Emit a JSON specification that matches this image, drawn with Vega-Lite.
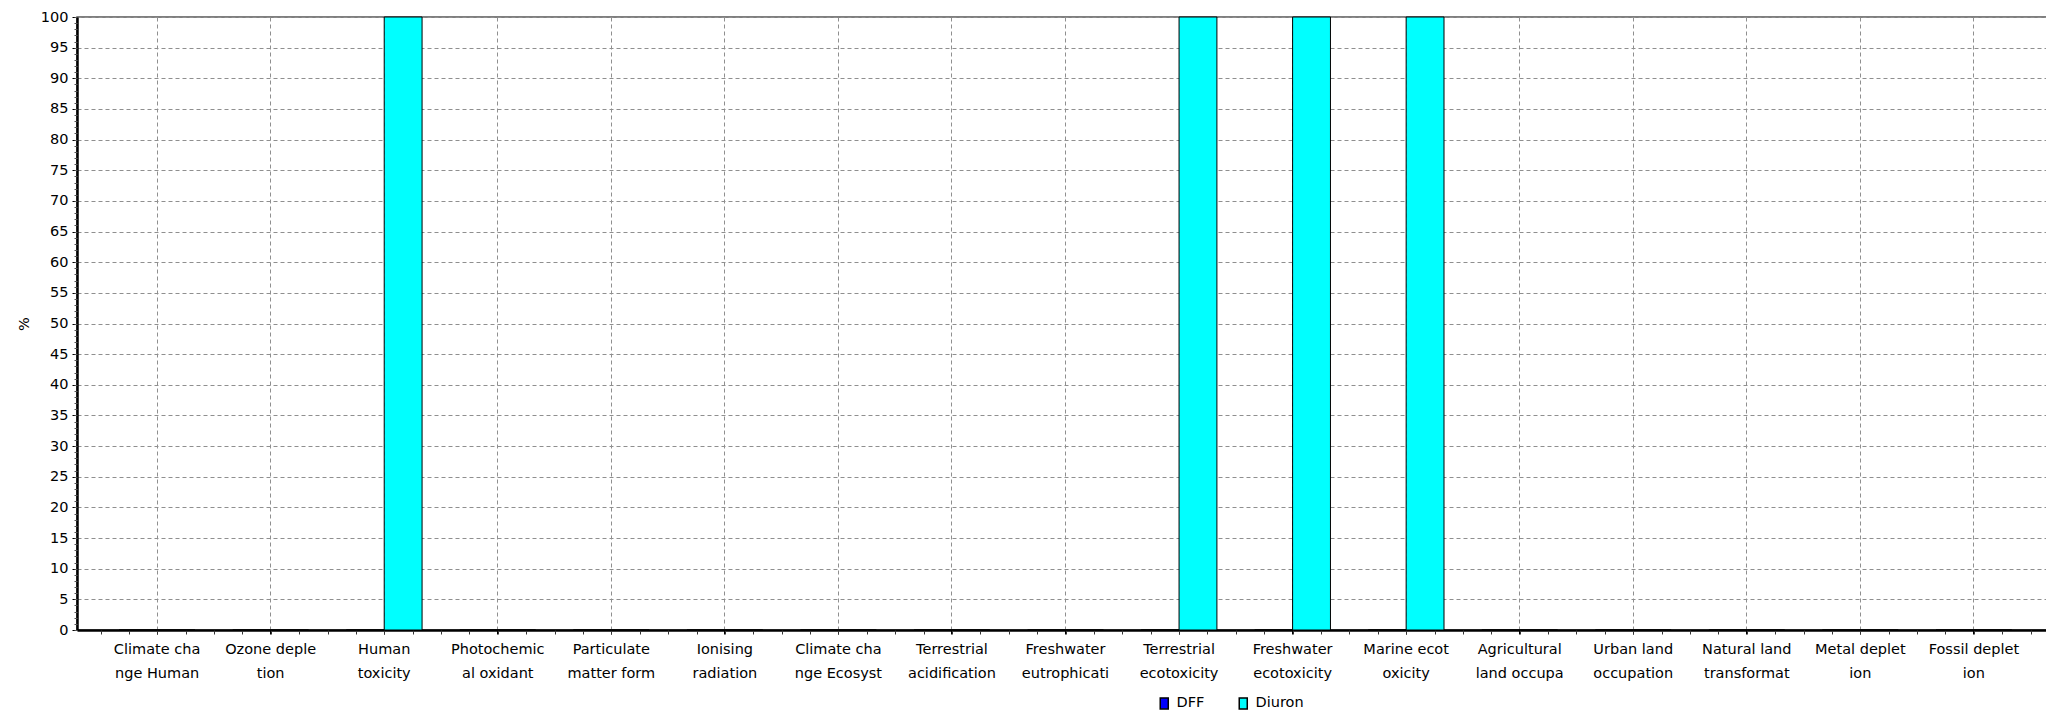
{
  "$schema": "https://vega.github.io/schema/vega-lite/v6.json",
  "width": 1977,
  "height": 613,
  "padding": {"left": 16, "top": 9, "right": 0, "bottom": 0},
  "autosize": {"type": "pad"},
  "background": "#ffffff",
  "config": {
    "font": "DejaVu Sans",
    "view": {"stroke": "#555555", "strokeWidth": 1.5},
    "axis": {
      "labelFont": "DejaVu Sans",
      "labelFontSize": 14.5,
      "labelColor": "#000000",
      "titleFont": "DejaVu Sans",
      "titleFontSize": 14.5,
      "titleFontWeight": "normal",
      "titleColor": "#000000"
    },
    "legend": {
      "labelFont": "DejaVu Sans",
      "labelFontSize": 14.5,
      "labelColor": "#000000"
    }
  },
  "datasets": {
    "bars": [
      {"category": "Climate cha|nge Human", "idx": 0, "series": "DFF", "value": 0},
      {"category": "Climate cha|nge Human", "idx": 0, "series": "Diuron", "value": 0},
      {"category": "Ozone deple|tion", "idx": 1, "series": "DFF", "value": 0},
      {"category": "Ozone deple|tion", "idx": 1, "series": "Diuron", "value": 0},
      {"category": "Human|toxicity", "idx": 2, "series": "DFF", "value": 0},
      {"category": "Human|toxicity", "idx": 2, "series": "Diuron", "value": 100},
      {"category": "Photochemic|al oxidant", "idx": 3, "series": "DFF", "value": 0},
      {"category": "Photochemic|al oxidant", "idx": 3, "series": "Diuron", "value": 0},
      {"category": "Particulate|matter form", "idx": 4, "series": "DFF", "value": 0},
      {"category": "Particulate|matter form", "idx": 4, "series": "Diuron", "value": 0},
      {"category": "Ionising|radiation", "idx": 5, "series": "DFF", "value": 0},
      {"category": "Ionising|radiation", "idx": 5, "series": "Diuron", "value": 0},
      {"category": "Climate cha|nge Ecosyst", "idx": 6, "series": "DFF", "value": 0},
      {"category": "Climate cha|nge Ecosyst", "idx": 6, "series": "Diuron", "value": 0},
      {"category": "Terrestrial|acidification", "idx": 7, "series": "DFF", "value": 0},
      {"category": "Terrestrial|acidification", "idx": 7, "series": "Diuron", "value": 0},
      {"category": "Freshwater|eutrophicati", "idx": 8, "series": "DFF", "value": 0},
      {"category": "Freshwater|eutrophicati", "idx": 8, "series": "Diuron", "value": 0},
      {"category": "Terrestrial|ecotoxicity", "idx": 9, "series": "DFF", "value": 0},
      {"category": "Terrestrial|ecotoxicity", "idx": 9, "series": "Diuron", "value": 100},
      {"category": "Freshwater|ecotoxicity", "idx": 10, "series": "DFF", "value": 0},
      {"category": "Freshwater|ecotoxicity", "idx": 10, "series": "Diuron", "value": 100},
      {"category": "Marine ecot|oxicity", "idx": 11, "series": "DFF", "value": 0},
      {"category": "Marine ecot|oxicity", "idx": 11, "series": "Diuron", "value": 100},
      {"category": "Agricultural|land occupa", "idx": 12, "series": "DFF", "value": 0},
      {"category": "Agricultural|land occupa", "idx": 12, "series": "Diuron", "value": 0},
      {"category": "Urban land|occupation", "idx": 13, "series": "DFF", "value": 0},
      {"category": "Urban land|occupation", "idx": 13, "series": "Diuron", "value": 0},
      {"category": "Natural land|transformat", "idx": 14, "series": "DFF", "value": 0},
      {"category": "Natural land|transformat", "idx": 14, "series": "Diuron", "value": 0},
      {"category": "Metal deplet|ion", "idx": 15, "series": "DFF", "value": 0},
      {"category": "Metal deplet|ion", "idx": 15, "series": "Diuron", "value": 0},
      {"category": "Fossil deplet|ion", "idx": 16, "series": "DFF", "value": 0},
      {"category": "Fossil deplet|ion", "idx": 16, "series": "Diuron", "value": 0}
    ]
  },
  "layer": [
    {
      "data": {"name": "bars"},
      "mark": {"type": "bar", "stroke": "#000000", "strokeWidth": 1},
      "encoding": {
        "x": {
          "field": "category",
          "type": "nominal",
          "sort": null,
          "scale": {"paddingInner": 0.333, "paddingOuter": 0.372},
          "axis": {
            "orient": "bottom",
            "title": null,
            "labelAngle": 0,
            "labelExpr": "split(datum.label, '|')",
            "labelLineHeight": 24,
            "labelPadding": 8,
            "labelLimit": 0,
            "tickBand": "center",
            "grid": true,
            "gridColor": "#8f8f8f",
            "gridDash": [4, 3],
            "gridWidth": 1,
            "ticks": true,
            "tickSize": 4,
            "tickColor": "#000000",
            "domain": true,
            "domainColor": "#000000",
            "domainWidth": 2.5
          }
        },
        "xOffset": {
          "field": "series",
          "type": "nominal",
          "sort": ["DFF", "Diuron"],
          "scale": {"paddingInner": 0, "paddingOuter": 0}
        },
        "y": {
          "field": "value",
          "type": "quantitative",
          "scale": {"domain": [0, 100], "nice": false},
          "axis": {
            "orient": "left",
            "title": "%",
            "titlePadding": 9,
            "tickCount": 20,
            "grid": true,
            "gridColor": "#8f8f8f",
            "gridDash": [4, 3],
            "gridWidth": 1,
            "tickSize": 5,
            "tickColor": "#000000",
            "labelPadding": 4,
            "domain": true,
            "domainColor": "#000000",
            "domainWidth": 2.5
          }
        },
        "color": {
          "field": "series",
          "type": "nominal",
          "sort": ["DFF", "Diuron"],
          "scale": {"domain": ["DFF", "Diuron"], "range": ["#0000ff", "#00ffff"]},
          "legend": {
            "title": null,
            "orient": "none",
            "legendX": 1080,
            "legendY": 679,
            "direction": "horizontal",
            "symbolType": "M-0.73,-1H0.73V1H-0.73Z",
            "symbolSize": 121,
            "symbolStrokeColor": "#000000",
            "symbolStrokeWidth": 1.5,
            "symbolOpacity": 1,
            "columnPadding": 31,
            "labelOffset": 5
          }
        }
      }
    },
    {
      "data": {"name": "bars"},
      "mark": {"type": "point", "opacity": 0},
      "encoding": {
        "x": {
          "field": "idx",
          "type": "quantitative",
          "scale": {"domain": [-0.707, 16.706], "nice": false, "zero": false},
          "axis": {
            "orient": "bottom",
            "title": null,
            "values": [-0.5, -0.25, 0, 0.25, 0.5, 0.75, 1, 1.25, 1.5, 1.75, 2, 2.25, 2.5, 2.75, 3, 3.25, 3.5, 3.75, 4, 4.25, 4.5, 4.75, 5, 5.25, 5.5, 5.75, 6, 6.25, 6.5, 6.75, 7, 7.25, 7.5, 7.75, 8, 8.25, 8.5, 8.75, 9, 9.25, 9.5, 9.75, 10, 10.25, 10.5, 10.75, 11, 11.25, 11.5, 11.75, 12, 12.25, 12.5, 12.75, 13, 13.25, 13.5, 13.75, 14, 14.25, 14.5, 14.75, 15, 15.25, 15.5, 15.75, 16, 16.25, 16.5],
            "labels": false,
            "grid": false,
            "domain": false,
            "ticks": true,
            "tickSize": 4,
            "tickColor": "#333333"
          }
        },
        "y": {
          "field": "value",
          "type": "quantitative",
          "axis": {
            "orient": "left",
            "title": null,
            "tickCount": 100,
            "labels": false,
            "grid": false,
            "domain": false,
            "ticks": true,
            "tickSize": 3,
            "tickColor": "#555555"
          }
        }
      }
    }
  ],
  "resolve": {
    "scale": {"x": "independent"},
    "axis": {"x": "independent", "y": "independent"}
  }
}
